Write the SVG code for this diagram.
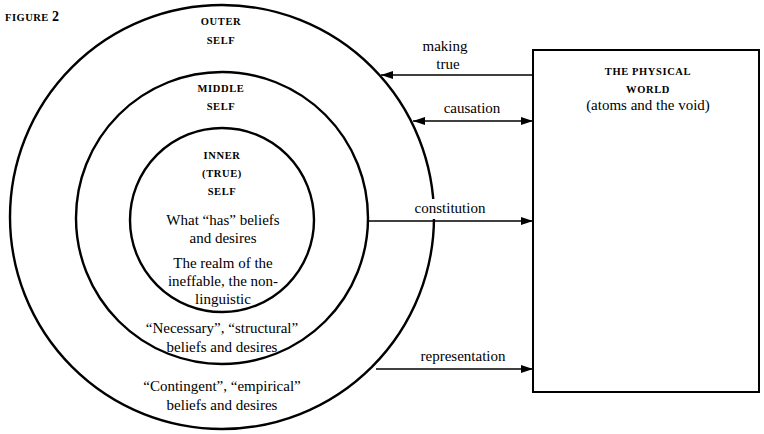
<svg xmlns="http://www.w3.org/2000/svg" width="764" height="434" viewBox="0 0 764 434">
<style>
.ring{fill:none;stroke:#000;stroke-width:2.4}
.ln{stroke:#000;stroke-width:1.6;fill:none}
</style>
<defs>
<marker id="ah" viewBox="0 0 12 8" refX="12" refY="4" markerWidth="12" markerHeight="8" markerUnits="userSpaceOnUse" orient="auto-start-reverse">
<path d="M0,0 L12,4 L0,8 Z" fill="#000"/>
</marker>
</defs>
<rect width="764" height="434" fill="#fff"/>
<text x="5" y="21" font-family="Liberation Serif" font-size="10.5" font-weight="bold" letter-spacing="0.5">FIGURE <tspan font-size="14">2</tspan></text>
<g id="outer-self">
<circle class="ring" cx="222" cy="217" r="212"/>
<rect x="428" y="199" width="16" height="20" fill="#fff"/>
<text font-family="Liberation Serif" font-size="10.5" font-weight="bold" letter-spacing="0.6" text-anchor="middle" x="221" y="25">OUTER</text>
<text font-family="Liberation Serif" font-size="10.5" font-weight="bold" letter-spacing="0.6" text-anchor="middle" x="221" y="44">SELF</text>
<text font-family="Liberation Serif" font-size="15" text-anchor="middle" x="222" y="391">“Contingent”, “empirical”</text>
<text font-family="Liberation Serif" font-size="15" text-anchor="middle" x="222" y="410">beliefs and desires</text>
</g>
<g id="middle-self">
<circle class="ring" cx="222" cy="218" r="146"/>
<text font-family="Liberation Serif" font-size="10.5" font-weight="bold" letter-spacing="0.6" text-anchor="middle" x="221" y="92">MIDDLE</text>
<text font-family="Liberation Serif" font-size="10.5" font-weight="bold" letter-spacing="0.6" text-anchor="middle" x="221" y="110">SELF</text>
<text font-family="Liberation Serif" font-size="15" text-anchor="middle" x="222" y="333">“Necessary”, “structural”</text>
<text font-family="Liberation Serif" font-size="15" text-anchor="middle" x="222" y="352">beliefs and desires</text>
</g>
<g id="inner-self">
<circle class="ring" cx="222" cy="220" r="92"/>
<text font-family="Liberation Serif" font-size="10.5" font-weight="bold" letter-spacing="0.6" text-anchor="middle" x="222" y="159">INNER</text>
<text font-family="Liberation Serif" font-size="10.5" font-weight="bold" letter-spacing="0.6" text-anchor="middle" x="222" y="177">(TRUE)</text>
<text font-family="Liberation Serif" font-size="10.5" font-weight="bold" letter-spacing="0.6" text-anchor="middle" x="222" y="195">SELF</text>
<text font-family="Liberation Serif" font-size="15" text-anchor="middle" x="223" y="225">What “has” beliefs</text>
<text font-family="Liberation Serif" font-size="15" text-anchor="middle" x="223" y="243">and desires</text>
<text font-family="Liberation Serif" font-size="15" text-anchor="middle" x="223" y="268">The realm of the</text>
<text font-family="Liberation Serif" font-size="15" text-anchor="middle" x="223" y="286">ineffable, the non-</text>
<text font-family="Liberation Serif" font-size="15" text-anchor="middle" x="223" y="304">linguistic</text>
</g>
<g id="physical-world">
<rect x="533" y="50" width="226" height="342" fill="none" stroke="#000" stroke-width="2"/>
<text font-family="Liberation Serif" font-size="10.5" font-weight="bold" letter-spacing="0.6" text-anchor="middle" x="648" y="75">THE PHYSICAL</text>
<text font-family="Liberation Serif" font-size="10.5" font-weight="bold" letter-spacing="0.6" text-anchor="middle" x="648" y="93">WORLD</text>
<text font-family="Liberation Serif" font-size="15" text-anchor="middle" x="648" y="110">(atoms and the void)</text>
</g>
<g id="connectors">
<line class="ln" x1="533" y1="75" x2="381" y2="75" marker-end="url(#ah)"/>
<text font-family="Liberation Serif" font-size="15" text-anchor="middle" x="445" y="51">making</text>
<text font-family="Liberation Serif" font-size="15" text-anchor="middle" x="448" y="69">true</text>
<line class="ln" x1="413" y1="121" x2="533" y2="121" marker-start="url(#ah)" marker-end="url(#ah)"/>
<text font-family="Liberation Serif" font-size="15" text-anchor="middle" x="472" y="113">causation</text>
<line class="ln" x1="369" y1="221" x2="533" y2="221" marker-end="url(#ah)"/>
<text font-family="Liberation Serif" font-size="15" text-anchor="middle" x="450" y="213">constitution</text>
<line class="ln" x1="376" y1="369" x2="533" y2="369" marker-end="url(#ah)"/>
<text font-family="Liberation Serif" font-size="15" text-anchor="middle" x="463" y="361">representation</text>
</g>
</svg>
